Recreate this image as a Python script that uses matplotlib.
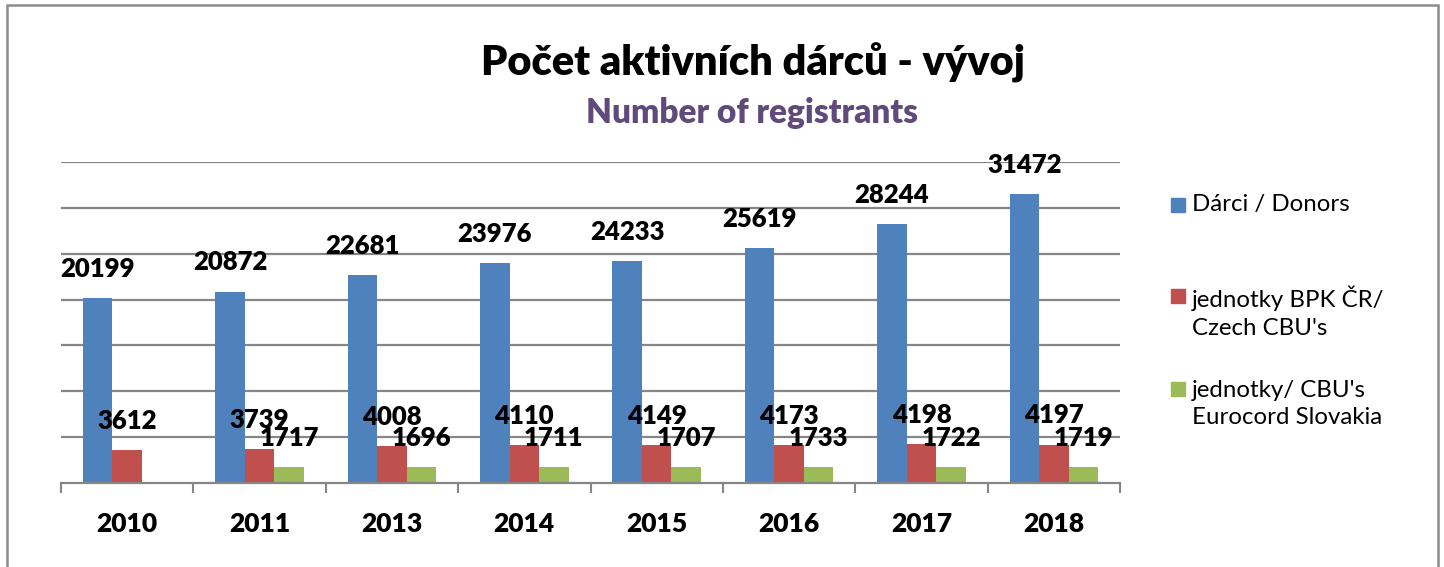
import numpy as np
import matplotlib.pyplot as plt
from matplotlib.patches import Rectangle

roky = ['2010', '2011', '2013', '2014', '2015', '2016', '2017', '2018']
darci = [20199, 20872, 22681, 23976, 24233, 25619, 28244, 31472]
jednotky_cr = [3612, 3739, 4008, 4110, 4149, 4173, 4198, 4197]
jednotky_sk = [None, 1717, 1696, 1711, 1707, 1733, 1722, 1719]

serie = [
    ('Dárci / Donors', darci, '#4F81BD'),
    ('jednotky BPK ČR/\nCzech CBU\'s', jednotky_cr, '#C0504D'),
    ('jednotky/ CBU\'s\nEurocord Slovakia', jednotky_sk, '#9BBB59'),
]

plt.rcParams['font.family'] = ['Lato', 'DejaVu Sans']

W, H = 1444, 567
fig = plt.figure(figsize=(W / 100, H / 100), dpi=100)
ax = fig.add_axes([61 / W, (H - 483) / H, (1120 - 61) / W, (483 - 162) / H])

x = np.arange(len(roky)) + 0.5
sirka = 0.223
for k, (nazev, hodnoty, barva) in enumerate(serie):
    xs = x + (k - 1) * sirka
    vals = [np.nan if v is None else v for v in hodnoty]
    ax.bar(xs, vals, sirka, color=barva, label=nazev)
    for xi, v in zip(xs, hodnoty):
        if v is None:
            continue
        ax.annotate(str(v), (xi, v), xytext=(0, 21), textcoords='offset points',
                    ha='center', va='center', fontsize=18.5, fontweight='heavy')

ax.set_xlim(0, len(roky))
ax.set_ylim(0, 35000)
ax.set_yticks(np.arange(5000, 35001, 5000))
ax.yaxis.grid(True, color='#868686', linewidth=1.6)
ax.set_axisbelow(True)
ax.tick_params(axis='y', length=0, labelleft=False)
ax.set_xticks(np.arange(len(roky) + 1))
ax.set_xticklabels([])
ax.set_xticks(x, minor=True)
ax.set_xticklabels(roky, minor=True, fontsize=19, fontweight='heavy')
ax.tick_params(axis='x', which='major', length=7, width=1.5, color='#868686', direction='out')
ax.tick_params(axis='x', which='minor', length=0, pad=21)
for s in ['top', 'right', 'left']:
    ax.spines[s].set_visible(False)
ax.spines['bottom'].set_color('#868686')
ax.spines['bottom'].set_linewidth(1.6)

fig.text(753 / W, 1 - 63 / H, 'Počet aktivních dárců - vývoj', ha='center', va='center',
         fontsize=30, fontweight='heavy')
fig.text(752 / W, 1 - 113 / H, 'Number of registrants', ha='center', va='center',
         fontsize=24, fontweight='heavy', color='#604A7B')

# legenda rucne - Excel ma nestejne mezery
leg_y = [205, 312, 404]
ctverec_y = [205, 296, 389]
for (nazev, _, barva), ty, cy in zip(serie, leg_y, ctverec_y):
    fig.patches.append(Rectangle((1171 / W, 1 - (cy + 7) / H), 14 / W, 14 / H,
                                 transform=fig.transFigure, color=barva))
    fig.text(1192 / W, 1 - ty / H, nazev, ha='left', va='center', fontsize=17.3,
             linespacing=1.4)

fig.patches.append(Rectangle((7 / W, -0.1), (1438 - 7) / W, 1.1 - 5 / H,
                             transform=fig.transFigure, fill=False,
                             edgecolor='#8C8C8C', linewidth=1.8))

fig.savefig('out.png', dpi=100)
